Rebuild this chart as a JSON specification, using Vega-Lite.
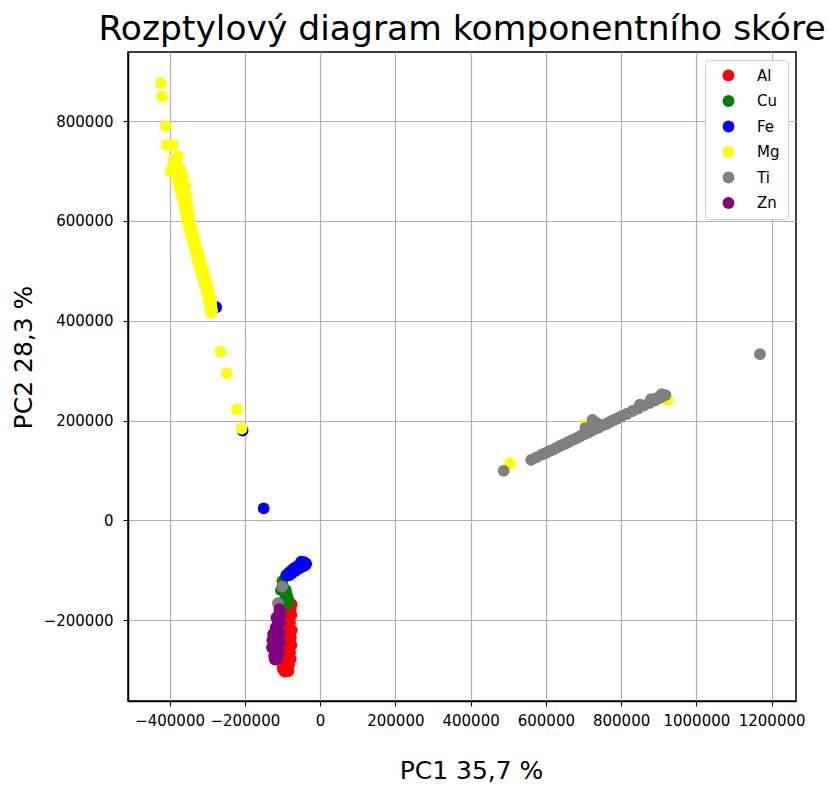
{
  "$schema": "https://vega.github.io/schema/vega-lite/v6.json",
  "autosize": {"type": "none"},
  "width": 668,
  "height": 649,
  "padding": {"left": 128, "top": 52, "right": 35, "bottom": 86},
  "background": "white",
  "config": {
    "font": "DejaVu Sans",
    "view": {"stroke": "black", "strokeWidth": 1.5}
  },
  "title": {
    "text": "Rozptylový diagram komponentního skóre",
    "font": "DejaVu Sans",
    "fontSize": 34.5,
    "fontWeight": "normal",
    "color": "black",
    "anchor": "middle",
    "frame": "group",
    "baseline": "alphabetic",
    "offset": 11,
    "dy": 33
  },
  "data": {
    "values": [
      {"m": "Al", "x": -76000, "y": -168000},
      {"m": "Al", "x": -78000, "y": -178000},
      {"m": "Al", "x": -76000, "y": -190000},
      {"m": "Al", "x": -80000, "y": -205000},
      {"m": "Al", "x": -75000, "y": -220000},
      {"m": "Al", "x": -78000, "y": -235000},
      {"m": "Al", "x": -76000, "y": -250000},
      {"m": "Al", "x": -80000, "y": -265000},
      {"m": "Al", "x": -78000, "y": -278000},
      {"m": "Al", "x": -82000, "y": -288000},
      {"m": "Al", "x": -88000, "y": -296000},
      {"m": "Al", "x": -94000, "y": -303000},
      {"m": "Al", "x": -99000, "y": -298000},
      {"m": "Al", "x": -90000, "y": -282000},
      {"m": "Al", "x": -86000, "y": -262000},
      {"m": "Al", "x": -88000, "y": -242000},
      {"m": "Al", "x": -85000, "y": -222000},
      {"m": "Al", "x": -90000, "y": -200000},
      {"m": "Al", "x": -88000, "y": -183000},
      {"m": "Al", "x": -100000, "y": -288000},
      {"m": "Al", "x": -84000, "y": -302000},
      {"m": "Cu", "x": -100000, "y": -122000},
      {"m": "Cu", "x": -97000, "y": -135000},
      {"m": "Cu", "x": -94000, "y": -145000},
      {"m": "Cu", "x": -88000, "y": -150000},
      {"m": "Cu", "x": -85000, "y": -158000},
      {"m": "Cu", "x": -86000, "y": -168000},
      {"m": "Cu", "x": -95000, "y": -160000},
      {"m": "Cu", "x": -91000, "y": -140000},
      {"m": "Cu", "x": -104000, "y": -140000},
      {"m": "Fe", "x": -276000, "y": 427000},
      {"m": "Fe", "x": -206000, "y": 180000},
      {"m": "Fe", "x": -150000, "y": 24000},
      {"m": "Fe", "x": -90000, "y": -110000},
      {"m": "Fe", "x": -84000, "y": -106000},
      {"m": "Fe", "x": -78000, "y": -102000},
      {"m": "Fe", "x": -72000, "y": -98000},
      {"m": "Fe", "x": -66000, "y": -95000},
      {"m": "Fe", "x": -60000, "y": -92000},
      {"m": "Fe", "x": -54000, "y": -89000},
      {"m": "Fe", "x": -48000, "y": -86000},
      {"m": "Fe", "x": -42000, "y": -84000},
      {"m": "Fe", "x": -37000, "y": -87000},
      {"m": "Fe", "x": -45000, "y": -92000},
      {"m": "Fe", "x": -55000, "y": -96000},
      {"m": "Fe", "x": -65000, "y": -101000},
      {"m": "Fe", "x": -75000, "y": -106000},
      {"m": "Fe", "x": -82000, "y": -110000},
      {"m": "Fe", "x": -50000, "y": -83000},
      {"m": "Fe", "x": -40000, "y": -90000},
      {"m": "Mg", "x": -423000, "y": 876000},
      {"m": "Mg", "x": -420000, "y": 849000},
      {"m": "Mg", "x": -410000, "y": 790000},
      {"m": "Mg", "x": -408000, "y": 752000},
      {"m": "Mg", "x": -392000, "y": 752000},
      {"m": "Mg", "x": -378000, "y": 730000},
      {"m": "Mg", "x": -390000, "y": 722000},
      {"m": "Mg", "x": -384000, "y": 718000},
      {"m": "Mg", "x": -388000, "y": 714000},
      {"m": "Mg", "x": -382000, "y": 710000},
      {"m": "Mg", "x": -386000, "y": 706000},
      {"m": "Mg", "x": -398000, "y": 700000},
      {"m": "Mg", "x": -372000, "y": 705000},
      {"m": "Mg", "x": -380000, "y": 702000},
      {"m": "Mg", "x": -384000, "y": 698000},
      {"m": "Mg", "x": -377000, "y": 694000},
      {"m": "Mg", "x": -381000, "y": 690000},
      {"m": "Mg", "x": -365000, "y": 690000},
      {"m": "Mg", "x": -374000, "y": 686000},
      {"m": "Mg", "x": -378000, "y": 682000},
      {"m": "Mg", "x": -372000, "y": 678000},
      {"m": "Mg", "x": -376000, "y": 674000},
      {"m": "Mg", "x": -358000, "y": 670000},
      {"m": "Mg", "x": -369000, "y": 670000},
      {"m": "Mg", "x": -373000, "y": 666000},
      {"m": "Mg", "x": -366000, "y": 662000},
      {"m": "Mg", "x": -370000, "y": 658000},
      {"m": "Mg", "x": -363000, "y": 654000},
      {"m": "Mg", "x": -355000, "y": 650000},
      {"m": "Mg", "x": -367000, "y": 650000},
      {"m": "Mg", "x": -360000, "y": 646000},
      {"m": "Mg", "x": -364000, "y": 642000},
      {"m": "Mg", "x": -358000, "y": 638000},
      {"m": "Mg", "x": -362000, "y": 634000},
      {"m": "Mg", "x": -352000, "y": 630000},
      {"m": "Mg", "x": -355000, "y": 626000},
      {"m": "Mg", "x": -359000, "y": 622000},
      {"m": "Mg", "x": -352000, "y": 618000},
      {"m": "Mg", "x": -348000, "y": 614000},
      {"m": "Mg", "x": -356000, "y": 610000},
      {"m": "Mg", "x": -350000, "y": 606000},
      {"m": "Mg", "x": -353000, "y": 602000},
      {"m": "Mg", "x": -346000, "y": 598000},
      {"m": "Mg", "x": -350000, "y": 594000},
      {"m": "Mg", "x": -344000, "y": 590000},
      {"m": "Mg", "x": -347000, "y": 586000},
      {"m": "Mg", "x": -341000, "y": 582000},
      {"m": "Mg", "x": -345000, "y": 578000},
      {"m": "Mg", "x": -338000, "y": 574000},
      {"m": "Mg", "x": -342000, "y": 570000},
      {"m": "Mg", "x": -335000, "y": 566000},
      {"m": "Mg", "x": -339000, "y": 562000},
      {"m": "Mg", "x": -332000, "y": 558000},
      {"m": "Mg", "x": -336000, "y": 554000},
      {"m": "Mg", "x": -330000, "y": 550000},
      {"m": "Mg", "x": -333000, "y": 546000},
      {"m": "Mg", "x": -327000, "y": 542000},
      {"m": "Mg", "x": -330000, "y": 538000},
      {"m": "Mg", "x": -324000, "y": 534000},
      {"m": "Mg", "x": -328000, "y": 530000},
      {"m": "Mg", "x": -321000, "y": 526000},
      {"m": "Mg", "x": -325000, "y": 522000},
      {"m": "Mg", "x": -318000, "y": 518000},
      {"m": "Mg", "x": -322000, "y": 514000},
      {"m": "Mg", "x": -315000, "y": 510000},
      {"m": "Mg", "x": -319000, "y": 506000},
      {"m": "Mg", "x": -312000, "y": 502000},
      {"m": "Mg", "x": -316000, "y": 498000},
      {"m": "Mg", "x": -309000, "y": 494000},
      {"m": "Mg", "x": -313000, "y": 490000},
      {"m": "Mg", "x": -306000, "y": 486000},
      {"m": "Mg", "x": -310000, "y": 482000},
      {"m": "Mg", "x": -303000, "y": 478000},
      {"m": "Mg", "x": -307000, "y": 474000},
      {"m": "Mg", "x": -300000, "y": 470000},
      {"m": "Mg", "x": -304000, "y": 466000},
      {"m": "Mg", "x": -297000, "y": 462000},
      {"m": "Mg", "x": -301000, "y": 458000},
      {"m": "Mg", "x": -295000, "y": 454000},
      {"m": "Mg", "x": -298000, "y": 450000},
      {"m": "Mg", "x": -292000, "y": 446000},
      {"m": "Mg", "x": -296000, "y": 442000},
      {"m": "Mg", "x": -290000, "y": 438000},
      {"m": "Mg", "x": -294000, "y": 434000},
      {"m": "Mg", "x": -289000, "y": 430000},
      {"m": "Mg", "x": -292000, "y": 426000},
      {"m": "Mg", "x": -287000, "y": 421000},
      {"m": "Mg", "x": -290000, "y": 416000},
      {"m": "Mg", "x": -265000, "y": 338000},
      {"m": "Mg", "x": -248000, "y": 295000},
      {"m": "Mg", "x": -221000, "y": 222000},
      {"m": "Mg", "x": -209000, "y": 184000},
      {"m": "Mg", "x": 505000, "y": 114000},
      {"m": "Mg", "x": 707000, "y": 191000},
      {"m": "Mg", "x": 924000, "y": 241000},
      {"m": "Ti", "x": -101000, "y": -133000},
      {"m": "Ti", "x": -112000, "y": -166000},
      {"m": "Ti", "x": 488000, "y": 99000},
      {"m": "Ti", "x": 561000, "y": 121000},
      {"m": "Ti", "x": 575000, "y": 126000},
      {"m": "Ti", "x": 590000, "y": 132000},
      {"m": "Ti", "x": 600000, "y": 135000},
      {"m": "Ti", "x": 610000, "y": 139000},
      {"m": "Ti", "x": 620000, "y": 142000},
      {"m": "Ti", "x": 630000, "y": 146000},
      {"m": "Ti", "x": 640000, "y": 150000},
      {"m": "Ti", "x": 650000, "y": 153000},
      {"m": "Ti", "x": 660000, "y": 157000},
      {"m": "Ti", "x": 670000, "y": 161000},
      {"m": "Ti", "x": 680000, "y": 164000},
      {"m": "Ti", "x": 690000, "y": 168000},
      {"m": "Ti", "x": 700000, "y": 172000},
      {"m": "Ti", "x": 705000, "y": 185000},
      {"m": "Ti", "x": 710000, "y": 175000},
      {"m": "Ti", "x": 720000, "y": 179000},
      {"m": "Ti", "x": 724000, "y": 201000},
      {"m": "Ti", "x": 730000, "y": 183000},
      {"m": "Ti", "x": 735000, "y": 195000},
      {"m": "Ti", "x": 740000, "y": 186000},
      {"m": "Ti", "x": 750000, "y": 190000},
      {"m": "Ti", "x": 760000, "y": 193000},
      {"m": "Ti", "x": 770000, "y": 197000},
      {"m": "Ti", "x": 780000, "y": 201000},
      {"m": "Ti", "x": 790000, "y": 204000},
      {"m": "Ti", "x": 800000, "y": 208000},
      {"m": "Ti", "x": 815000, "y": 213000},
      {"m": "Ti", "x": 830000, "y": 219000},
      {"m": "Ti", "x": 845000, "y": 224000},
      {"m": "Ti", "x": 850000, "y": 232000},
      {"m": "Ti", "x": 860000, "y": 230000},
      {"m": "Ti", "x": 875000, "y": 235000},
      {"m": "Ti", "x": 880000, "y": 243000},
      {"m": "Ti", "x": 890000, "y": 240000},
      {"m": "Ti", "x": 895000, "y": 245000},
      {"m": "Ti", "x": 905000, "y": 246000},
      {"m": "Ti", "x": 908000, "y": 253000},
      {"m": "Ti", "x": 918000, "y": 251000},
      {"m": "Ti", "x": 1169000, "y": 333000},
      {"m": "Zn", "x": -108000, "y": -178000},
      {"m": "Zn", "x": -110000, "y": -190000},
      {"m": "Zn", "x": -112000, "y": -205000},
      {"m": "Zn", "x": -114000, "y": -220000},
      {"m": "Zn", "x": -115000, "y": -235000},
      {"m": "Zn", "x": -118000, "y": -250000},
      {"m": "Zn", "x": -120000, "y": -262000},
      {"m": "Zn", "x": -122000, "y": -272000},
      {"m": "Zn", "x": -120000, "y": -279000},
      {"m": "Zn", "x": -112000, "y": -276000},
      {"m": "Zn", "x": -110000, "y": -265000},
      {"m": "Zn", "x": -106000, "y": -245000},
      {"m": "Zn", "x": -106000, "y": -225000},
      {"m": "Zn", "x": -105000, "y": -205000},
      {"m": "Zn", "x": -128000, "y": -255000},
      {"m": "Zn", "x": -127000, "y": -240000},
      {"m": "Zn", "x": -125000, "y": -228000},
      {"m": "Zn", "x": -118000, "y": -215000},
      {"m": "Zn", "x": -116000, "y": -195000},
      {"m": "Zn", "x": -104000, "y": -190000}
    ]
  },
  "mark": {"type": "point", "shape": "circle", "filled": true, "opacity": 1, "size": 140, "strokeWidth": 0},
  "encoding": {
    "x": {
      "field": "x",
      "type": "quantitative",
      "scale": {"domain": [-510500, 1264800], "nice": false, "zero": false},
      "axis": {
        "title": "PC1 35,7 %",
        "titleFont": "DejaVu Sans",
        "titleFontSize": 25,
        "titleFontWeight": "normal",
        "titleColor": "black",
        "titlePadding": 30,
        "titleX": 343,
        "values": [-400000, -200000, 0, 200000, 400000, 600000, 800000, 1000000, 1200000],
        "format": "d",
        "labelOverlap": false,
        "labelFlush": false,
        "labelFontSize": 15,
        "labelColor": "black",
        "labelPadding": 7,
        "tickSize": 5,
        "tickColor": "black",
        "domainColor": "black",
        "domainWidth": 1.5,
        "gridColor": "#b0b0b0",
        "gridWidth": 1.2
      }
    },
    "y": {
      "field": "y",
      "type": "quantitative",
      "scale": {"domain": [-362100, 938500], "nice": false, "zero": false},
      "axis": {
        "title": "PC2 28,3 %",
        "titleFont": "DejaVu Sans",
        "titleFontSize": 25,
        "titleFontWeight": "normal",
        "titleColor": "black",
        "titlePadding": 7,
        "titleY": 305,
        "values": [-200000, 0, 200000, 400000, 600000, 800000],
        "format": "d",
        "labelFontSize": 15,
        "labelColor": "black",
        "labelPadding": 10,
        "tickSize": 5,
        "tickColor": "black",
        "domainColor": "black",
        "domainWidth": 1.5,
        "gridColor": "#b0b0b0",
        "gridWidth": 1.2
      }
    },
    "color": {
      "field": "m",
      "type": "nominal",
      "scale": {
        "domain": ["Al", "Cu", "Fe", "Mg", "Ti", "Zn"],
        "range": ["#ff0000", "#008000", "#0000ff", "#ffff00", "#808080", "#800080"]
      },
      "legend": {
        "title": null,
        "orient": "top-right",
        "offset": 8,
        "padding": 8,
        "fillColor": "white",
        "strokeColor": "#cccccc",
        "cornerRadius": 4,
        "symbolType": "circle",
        "symbolSize": 140,
        "symbolStrokeWidth": 0,
        "symbolOpacity": 1,
        "symbolOffset": 8,
        "labelFontSize": 15,
        "labelColor": "black",
        "labelOffset": 21,
        "rowPadding": 9.5
      }
    }
  }
}
